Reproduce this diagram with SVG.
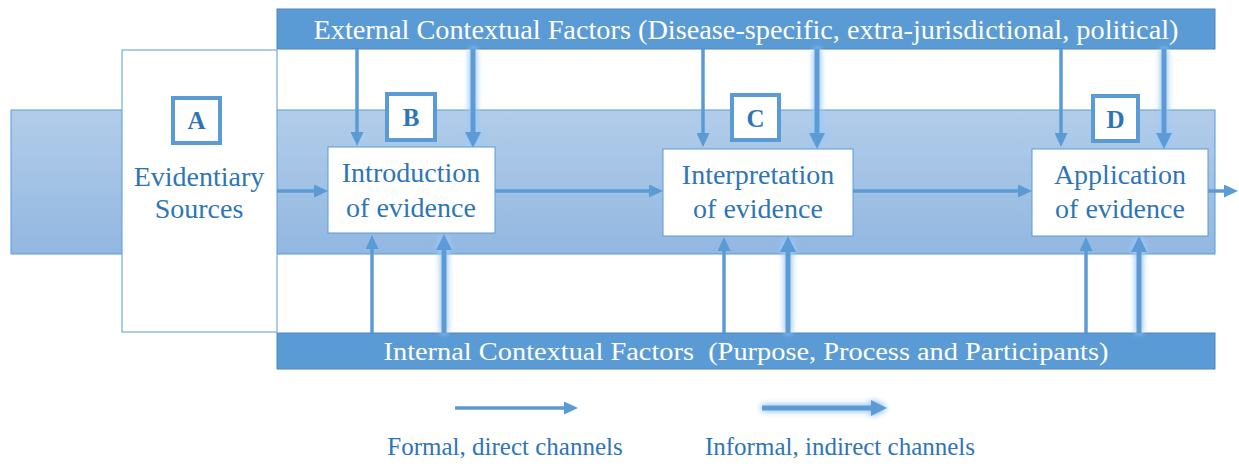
<svg xmlns="http://www.w3.org/2000/svg" width="1239" height="466" viewBox="0 0 1239 466">
<style>
.bar{fill:#5b9bd5;stroke:#4a86c0;stroke-width:1}
.bartxt{font-family:"Liberation Serif","Times New Roman",serif;fill:#ffffff;text-anchor:middle}
.node{fill:#ffffff;stroke:#5b9bd5;stroke-width:1}
.ntxt{font-family:"Liberation Serif","Times New Roman",serif;font-size:28px;fill:#2e75b6;text-anchor:middle}
.lbl{fill:#ffffff;stroke:#5b9bd5;stroke-width:4}
.ltxt{font-family:"Liberation Serif","Times New Roman",serif;font-size:25px;font-weight:bold;fill:#2e75b6;text-anchor:middle}
.formal{stroke:#5b9bd5;stroke-width:3.5;fill:none;marker-end:url(#af)}
.informal{stroke:#5b9bd5;stroke-width:5;fill:none;marker-end:url(#ai)}
.legtxt{font-family:"Liberation Serif","Times New Roman",serif;font-size:25px;fill:#2e75b6;text-anchor:middle}
</style>
<defs>
<linearGradient id="bandg" x1="0" y1="0" x2="0" y2="1">
<stop offset="0" stop-color="#b2cdea"/>
<stop offset="1" stop-color="#92b7e1"/>
</linearGradient>
<marker id="af" markerUnits="userSpaceOnUse" markerWidth="14" markerHeight="13" refX="4" refY="6.5" orient="auto">
<path d="M0,0 L14,6.5 L0,13 z" fill="#5b9bd5"/>
</marker>
<marker id="ai" markerUnits="userSpaceOnUse" markerWidth="16" markerHeight="16" refX="5" refY="8" orient="auto">
<path d="M0,0 L16,8 L0,16 z" fill="#5b9bd5"/>
</marker>
<filter id="glow" filterUnits="userSpaceOnUse" x="0" y="0" width="1239" height="466">
<feGaussianBlur in="SourceAlpha" stdDeviation="3" result="b"/>
<feFlood flood-color="#9ccaf7"/>
<feComposite in2="b" operator="in" result="g"/>
<feMerge><feMergeNode in="g"/><feMergeNode in="g"/><feMergeNode in="SourceGraphic"/></feMerge>
</filter>
</defs>
<rect width="1239" height="466" fill="#ffffff"/>

<g id="band">
<rect x="11" y="110" width="1204" height="144" fill="url(#bandg)" stroke="#5b9bd5" stroke-width="1"/>
</g>

<g id="external">
<rect class="bar" x="277" y="9" width="938" height="40"/>
<text class="bartxt" x="746" y="39" font-size="27" textLength="865" lengthAdjust="spacingAndGlyphs">External Contextual Factors (Disease-specific, extra-jurisdictional, political)</text>
</g>

<g id="internal">
<rect class="bar" x="277" y="333" width="938" height="36"/>
<text class="bartxt" x="746" y="360" font-size="25" textLength="725" lengthAdjust="spacingAndGlyphs" xml:space="preserve">Internal Contextual Factors  (Purpose, Process and Participants)</text>
</g>

<g id="nodeA">
<rect class="node" x="122" y="50" width="155" height="282"/>
<rect class="lbl" x="173" y="98" width="47" height="45"/>
<text class="ltxt" x="196.5" y="129">A</text>
<text class="ntxt" x="199" y="186">Evidentiary</text>
<text class="ntxt" x="199" y="218">Sources</text>
</g>

<g id="connectors">
<line class="formal" x1="277" y1="191" x2="318" y2="191"/>
<line class="formal" x1="495" y1="191" x2="653" y2="191"/>
<line class="formal" x1="853" y1="191" x2="1022" y2="191"/>
<line class="formal" x1="1208" y1="191" x2="1228" y2="191"/>

<line class="formal" x1="357" y1="49" x2="357" y2="136"/>
<line class="formal" x1="703" y1="49" x2="703" y2="137"/>
<line class="formal" x1="1061" y1="49" x2="1061" y2="137"/>

<line class="formal" x1="372" y1="333" x2="372" y2="245"/>
<line class="formal" x1="724" y1="333" x2="724" y2="247"/>
<line class="formal" x1="1086" y1="333" x2="1086" y2="247"/>

<g filter="url(#glow)">
<line class="informal" x1="473" y1="49" x2="473" y2="137"/>
<line class="informal" x1="817" y1="49" x2="817" y2="138"/>
<line class="informal" x1="1164" y1="49" x2="1164" y2="138"/>
<line class="informal" x1="444" y1="333" x2="444" y2="245"/>
<line class="informal" x1="788" y1="333" x2="788" y2="247"/>
<line class="informal" x1="1139" y1="333" x2="1139" y2="247"/>
</g>
</g>

<g id="nodeB">
<rect class="lbl" x="387" y="94" width="48" height="46"/>
<text class="ltxt" x="411" y="126">B</text>
<rect class="node" x="328" y="147" width="167" height="86"/>
<text class="ntxt" x="411" y="182">Introduction</text>
<text class="ntxt" x="411" y="217">of evidence</text>
</g>

<g id="nodeC">
<rect class="lbl" x="732" y="95" width="47" height="45"/>
<text class="ltxt" x="755.5" y="127">C</text>
<rect class="node" x="663" y="149" width="190" height="87"/>
<text class="ntxt" x="758" y="184">Interpretation</text>
<text class="ntxt" x="758" y="218">of evidence</text>
</g>

<g id="nodeD">
<rect class="lbl" x="1093" y="96" width="45" height="45"/>
<text class="ltxt" x="1115.5" y="128">D</text>
<rect class="node" x="1032" y="149" width="176" height="87"/>
<text class="ntxt" x="1120" y="184">Application</text>
<text class="ntxt" x="1120" y="218">of evidence</text>
</g>

<g id="legend">
<line class="formal" x1="455" y1="408" x2="568" y2="408"/>
<text class="legtxt" x="505" y="455">Formal, direct channels</text>
<g filter="url(#glow)">
<line class="informal" x1="762" y1="408" x2="876" y2="408"/>
</g>
<text class="legtxt" x="840" y="455">Informal, indirect channels</text>
</g>
</svg>
